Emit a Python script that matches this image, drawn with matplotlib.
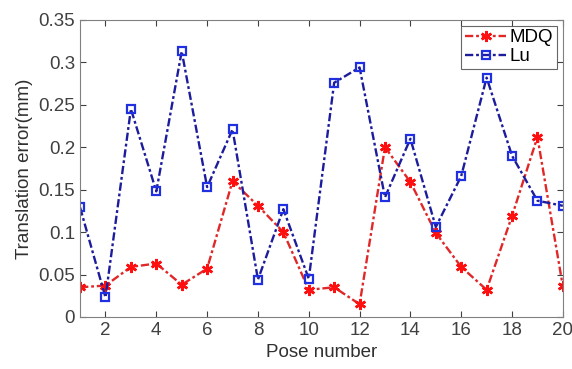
import matplotlib.pyplot as plt
import numpy as np

plt.rcParams['font.family'] = ['Liberation Sans', 'DejaVu Sans']

# данные
pose = np.arange(1, 21)
mdq = [0.035, 0.037, 0.059, 0.063, 0.038, 0.057, 0.160, 0.131, 0.100, 0.032,
       0.035, 0.015, 0.200, 0.159, 0.099, 0.059, 0.032, 0.119, 0.212, 0.036]
lu = [0.129, 0.023, 0.245, 0.148, 0.313, 0.153, 0.221, 0.044, 0.127, 0.045,
      0.276, 0.294, 0.141, 0.210, 0.106, 0.166, 0.282, 0.190, 0.137, 0.131]
xticks = [2, 4, 6, 8, 10, 12, 14, 16, 18, 20]
yticks = [0, 0.05, 0.1, 0.15, 0.2, 0.25, 0.3, 0.35]
ytick_labels = ['0', '0.05', '0.1', '0.15', '0.2', '0.25', '0.3', '0.35']

fig = plt.figure(figsize=(5.72, 3.69), dpi=100)
ax = fig.add_axes([0.14, 0.141, 0.844, 0.805])

dash = (0, (3.5, 1.2, 1.2, 1.2))
ax.plot(pose, mdq, color='#e02828', lw=1.7, ls=dash, marker=(6, 2, 0), ms=8,
        mec='#ff1010', mew=1.8, label='MDQ')
ax.plot(pose, lu, color='#1c1c9c', lw=1.7, ls=dash, marker='s', ms=6,
        mec='#2030e0', mfc='none', mew=1.6, label='Lu')

ax.set_xlim(1, 20)
ax.set_ylim(0, 0.35)
ax.set_xticks(xticks)
ax.set_yticks(yticks)
ax.set_yticklabels(ytick_labels)
ax.tick_params(direction='in', top=True, right=True, labelsize=13.5,
               colors='#404040', length=4)
for s in ax.spines.values():
    s.set_color('#808080')
ax.set_xlabel('Pose number', fontsize=13.5, color='#303030', labelpad=4)
ax.set_ylabel('Translation error(mm)', fontsize=13.5, color='#303030')

leg = ax.legend(loc='upper right', fontsize=13.5, fancybox=False,
                handlelength=2.2, handletextpad=0.2, borderpad=0.2,
                labelspacing=0.1, borderaxespad=0.3)
leg.get_frame().set_edgecolor('#404040')
leg.get_frame().set_linewidth(0.8)

plt.savefig('out.png', dpi=100)
